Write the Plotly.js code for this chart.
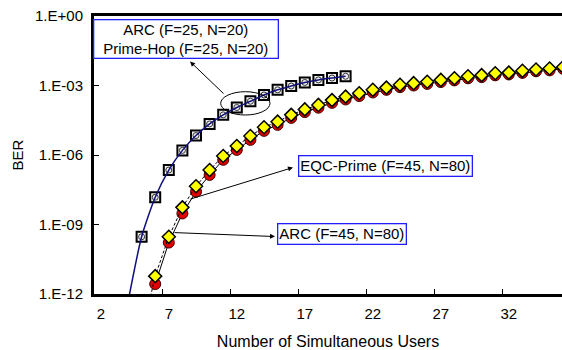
<!DOCTYPE html>
<html>
<head>
<meta charset="utf-8">
<script src="https://cdn.plot.ly/plotly-3.0.1.min.js"></script>
<style>
  html, body { margin: 0; padding: 0; background: #fff; overflow: hidden; }
  #chart { width: 562px; height: 350px; }
</style>
</head>
<body>
<div id="chart"></div>
<script>
// ---- data ----
const usersPrimeHop = [4, 5, 6, 7, 8, 9, 10, 11, 12, 13, 14, 15, 16, 17, 18, 19, 20];
const berPrimeHop = [4.5e-13, 2.95e-10, 1.51e-8, 2.24e-7, 1.58e-6, 6.9e-6, 2.19e-5, 5.4e-5, 1.12e-4,
                     2.09e-4, 3.9e-4, 6.5e-4, 9.5e-4, 1.35e-3, 1.74e-3, 2.1e-3, 2.5e-3];

const usersArc25 = [5, 6, 7, 8, 9, 10, 11, 12, 13, 14, 15, 16, 17, 18, 19, 20];
const berArc25 = [2.95e-10, 1.51e-8, 2.24e-7, 1.58e-6, 6.9e-6, 2.19e-5, 5.4e-5, 1.12e-4,
                  2.09e-4, 3.9e-4, 6.5e-4, 9.5e-4, 1.35e-3, 1.74e-3, 2.1e-3, 2.5e-3];

const usersEqc = [5, 6, 7, 8, 9, 10, 11, 12, 13, 14, 15, 16, 17, 18, 19, 20,
                  21, 22, 23, 24, 25, 26, 27, 28, 29, 30, 31, 32, 33, 34, 35, 36];
const berEqc = [1.6e-14, 5.9e-12, 2.95e-10, 5.5e-9, 4.5e-8, 2.24e-7, 9.1e-7, 2.45e-6, 6.6e-6, 1.58e-5,
                2.75e-5, 5.4e-5, 9.3e-5, 1.45e-4, 2.34e-4, 3.3e-4, 4.6e-4, 6.5e-4, 8.1e-4, 1.07e-3,
                1.26e-3, 1.45e-3, 1.74e-3, 2.04e-3, 2.5e-3, 2.8e-3, 3.4e-3, 3.6e-3, 4.3e-3, 4.9e-3,
                5.4e-3, 6.3e-3];

const usersArc45 = [6, 7, 8, 9, 10, 11, 12, 13, 14, 15, 16, 17, 18, 19, 20,
                    21, 22, 23, 24, 25, 26, 27, 28, 29, 30, 31, 32, 33, 34, 35, 36];
const berArc45 = [2.7e-12, 1.66e-10, 3.0e-9, 2.6e-8, 1.38e-7, 6.2e-7, 1.66e-6, 4.5e-6, 1.1e-5, 2.0e-5,
                  4.0e-5, 7.1e-5, 1.1e-4, 1.78e-4, 2.5e-4, 3.5e-4, 5.0e-4, 6.5e-4, 8.5e-4, 1.0e-3,
                  1.17e-3, 1.41e-3, 1.66e-3, 2.04e-3, 2.3e-3, 2.75e-3, 3.0e-3, 3.5e-3, 4.1e-3, 4.5e-3,
                  5.2e-3];

const xTickLabels = [2, 7, 12, 17, 22, 27, 32];
const xTickMarks = [6.5, 11.5, 16.5, 21.5, 26.5, 31.5];
const yTickVals = [1e-12, 1e-9, 1e-6, 1e-3, 1];
const yTickText = ['1.E-12', '1.E-09', '1.E-06', '1.E-03', '1.E+00'];

const labelArc25 = 'ARC (F=25, N=20)';
const labelPrimeHop = 'Prime-Hop (F=25, N=20)';
const labelEqc = 'EQC-Prime (F=45, N=80)';
const labelArc45 = 'ARC (F=45, N=80)';

// ---- figure ----
const FONT = 'Liberation Sans, Arial, Helvetica, sans-serif';
const xRange = [1.5, 35.91];

const traces = [
  { x: usersArc25, y: berArc25, mode: 'markers', name: labelArc25,
    marker: { symbol: 'square', size: 10, color: '#f0f0f0', line: { color: '#000', width: 2 } } },
  { x: usersArc25, y: berArc25, mode: 'markers', name: labelPrimeHop + ' marker',
    marker: { symbol: 'circle-open', size: 6, color: '#333', line: { color: '#333', width: 1 } } },
  { x: usersArc45, y: berArc45, mode: 'lines+markers', name: labelArc45,
    line: { color: '#000', width: 1 },
    marker: { symbol: 'circle', size: 11, color: '#e00000', line: { color: '#400', width: 1 } } },
  { x: usersEqc, y: berEqc, mode: 'lines+markers', name: labelEqc,
    line: { color: '#000', width: 1, dash: '3px,2px' },
    marker: { symbol: 'diamond', size: 10, color: '#ffff00', line: { color: '#000', width: 1.5 } } },
  { x: usersPrimeHop, y: berPrimeHop, mode: 'lines', name: labelPrimeHop, xaxis: 'x2', yaxis: 'y',
    line: { color: '#10107a', width: 1.5, shape: 'spline', smoothing: 0.6 } }
];

const boxFont = { family: FONT, size: 15, color: '#000' };
const blue = '#1f1fff';

const layout = {
  width: 562, height: 350,
  margin: { l: 94, r: 0, t: 16, b: 56, pad: 0 },
  paper_bgcolor: '#fff', plot_bgcolor: '#fff',
  showlegend: false,
  font: { family: FONT, size: 15, color: '#000' },
  xaxis: {
    range: xRange, showgrid: false, zeroline: false,
    showline: true, linewidth: 3, linecolor: '#000', mirror: true,
    ticks: 'inside', ticklen: 5, tickwidth: 1, tickcolor: '#000',
    tickmode: 'array', tickvals: xTickMarks, showticklabels: false
  },
  xaxis2: {
    overlaying: 'x', side: 'bottom', range: xRange, showgrid: false, zeroline: false,
    showline: false, ticks: '', tickmode: 'array', tickvals: xTickLabels,
    ticktext: xTickLabels.map(String), ticklabelstandoff: 9,
    tickfont: { family: FONT, size: 15, color: '#000' },
    title: { text: 'Number of Simultaneous Users', font: { family: FONT, size: 16, color: '#000' }, standoff: 14 }
  },
  yaxis: {
    type: 'log', range: [-12, 0], showgrid: false, zeroline: false,
    showline: true, linewidth: 3, linecolor: '#000',
    ticks: 'inside', ticklen: 5, tickwidth: 1, tickcolor: '#000',
    tickmode: 'array', tickvals: yTickVals, ticktext: yTickText, ticklabelstandoff: 5,
    tickfont: { family: FONT, size: 15, color: '#000' },
    title: { text: 'BER', font: { family: FONT, size: 15, color: '#000' }, standoff: 8 }
  },
  shapes: [
    { type: 'circle', xref: 'paper', yref: 'paper',
      x0: (220.7 - 94) / 468, x1: (270 - 94) / 468, y0: (294 - 115) / 278, y1: (294 - 91.7) / 278,
      line: { color: '#000', width: 1 } }
  ],
  annotations: [
    { xref: 'paper', yref: 'paper', x: (185.5 - 94) / 468, y: (294 - 38.5) / 278,
      xanchor: 'center', yanchor: 'middle', showarrow: false,
      text: labelArc25 + '<br>' + labelPrimeHop, font: boxFont, align: 'center',
      width: 183, height: 37, bgcolor: '#fff', bordercolor: blue, borderwidth: 1.3, borderpad: 0 },
    { xref: 'paper', yref: 'paper', x: (298 - 94) / 468, y: (294 - 166) / 278,
      xanchor: 'left', yanchor: 'middle', showarrow: false,
      text: labelEqc, font: boxFont, bgcolor: '#fff', bordercolor: blue, borderwidth: 1.3, borderpad: 1 },
    { xref: 'paper', yref: 'paper', x: (277 - 94) / 468, y: (294 - 233.5) / 278,
      xanchor: 'left', yanchor: 'middle', showarrow: false,
      text: labelArc45, font: boxFont, bgcolor: '#fff', bordercolor: blue, borderwidth: 1.3, borderpad: 1 },
    // arrows (head at x,y; tail offset in pixels)
    { xref: 'x', yref: 'y', x: 8.56, y: -1.964, text: '', showarrow: true,
      ax: 35, ay: 33.5, arrowhead: 2, arrowsize: 1, arrowwidth: 1, arrowcolor: '#000', standoff: 0, startstandoff: 0 },
    { xref: 'x', yref: 'y', x: 16.13, y: -6.54, text: '', showarrow: true,
      ax: -104, ay: 32, arrowhead: 2, arrowsize: 1, arrowwidth: 1, arrowcolor: '#000', standoff: 0, startstandoff: 0 },
    { xref: 'x', yref: 'y', x: 14.81, y: -9.52, text: '', showarrow: true,
      ax: -102, ay: -4, arrowhead: 2, arrowsize: 1, arrowwidth: 1, arrowcolor: '#000', standoff: 0, startstandoff: 0 }
  ]
};

Plotly.newPlot('chart', traces, layout, { staticPlot: true, displayModeBar: false });
</script>
</body>
</html>
